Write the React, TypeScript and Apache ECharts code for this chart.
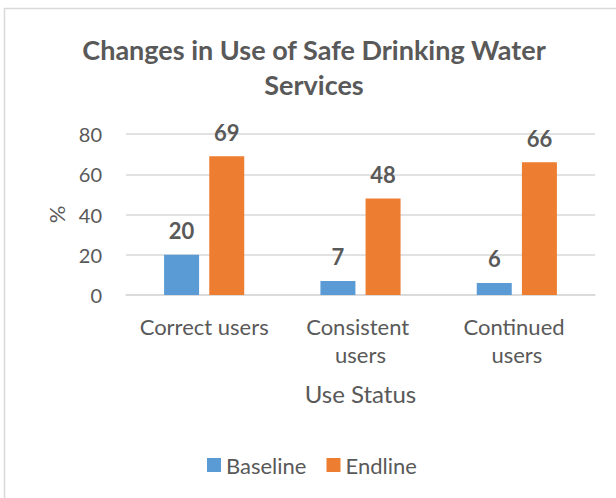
import React, { useEffect, useRef } from "react";
import * as echarts from "echarts";

const categories = ["Correct users", "Consistent users", "Continued users"];
const baseline = [20, 7, 6];
const endline = [69, 48, 66];
const yTicks = [0, 20, 40, 60, 80];
const titleText = "Changes in Use of Safe Drinking Water\nServices";

const FONT = "Lato, 'Open Sans', sans-serif";
const GRAY = "#595959";

export default function App() {
  const ref = useRef<HTMLDivElement>(null);
  useEffect(() => {
    if (!ref.current) return;
    const chart = echarts.init(ref.current, undefined, { renderer: "svg" });
    const barLabel = {
      show: true,
      position: "top",
      distance: 13,
      color: GRAY,
      fontSize: 22,
      fontWeight: "bold",
      fontFamily: FONT,
    };
    chart.setOption({
      animation: false,
      backgroundColor: "#ffffff",
      textStyle: { fontFamily: FONT },
      graphic: [
        {
          type: "rect",
          shape: { x: 4.5, y: 8.5, width: 640, height: 520 },
          style: { fill: "none", stroke: "#d9d9d9", lineWidth: 1.5 },
          silent: true,
        },
        {
          type: "text",
          x: 314,
          y: 32,
          style: {
            text: titleText,
            textAlign: "center",
            fill: GRAY,
            font: `bold 27px ${FONT}`,
            lineHeight: 35,
          },
        },
      ],
      legend: {
        left: 202,
        top: 449,
        itemWidth: 14,
        itemHeight: 14,
        itemGap: 20,
        icon: "rect",
        textStyle: { color: GRAY, fontSize: 22, fontFamily: FONT },
        data: ["Baseline", "Endline"],
      },
      grid: {
        left: 126,
        right: 21,
        top: 134,
        bottom: 203,
        outerBoundsMode: "none",
        containLabel: false,
      },
      xAxis: {
        type: "category",
        data: categories,
        name: "Use Status",
        nameLocation: "middle",
        nameGap: 86,
        nameTextStyle: { color: GRAY, fontSize: 24, fontFamily: FONT },
        axisLine: { show: true, lineStyle: { color: "#d9d9d9", width: 1.5 } },
        axisTick: { show: false },
        axisLabel: {
          color: GRAY,
          fontSize: 22,
          fontFamily: FONT,
          margin: 17,
          lineHeight: 28,
          width: 150,
          overflow: "break",
          interval: 0,
        },
      },
      yAxis: {
        type: "value",
        min: yTicks[0],
        max: yTicks[yTicks.length - 1],
        interval: 20,
        name: "%",
        nameLocation: "middle",
        nameRotate: 90,
        nameGap: 59,
        nameTextStyle: { color: GRAY, fontSize: 22, fontFamily: FONT },
        axisLine: { show: false },
        axisTick: { show: false },
        axisLabel: { color: GRAY, fontSize: 20, fontFamily: FONT, margin: 24 },
        splitLine: { lineStyle: { color: "#d9d9d9", width: 1.5 } },
      },
      series: [
        {
          name: "Baseline",
          type: "bar",
          data: baseline,
          barWidth: 35,
          barGap: "29%",
          itemStyle: { color: "#5B9BD5" },
          label: barLabel,
        },
        {
          name: "Endline",
          type: "bar",
          data: endline,
          barWidth: 35,
          barGap: "29%",
          itemStyle: { color: "#ED7D31" },
          label: barLabel,
        },
      ],
    });
    return () => chart.dispose();
  }, []);
  return (
    <div
      ref={ref}
      style={{ position: "fixed", left: 0, top: 0, width: 616, height: 498 }}
    />
  );
}
